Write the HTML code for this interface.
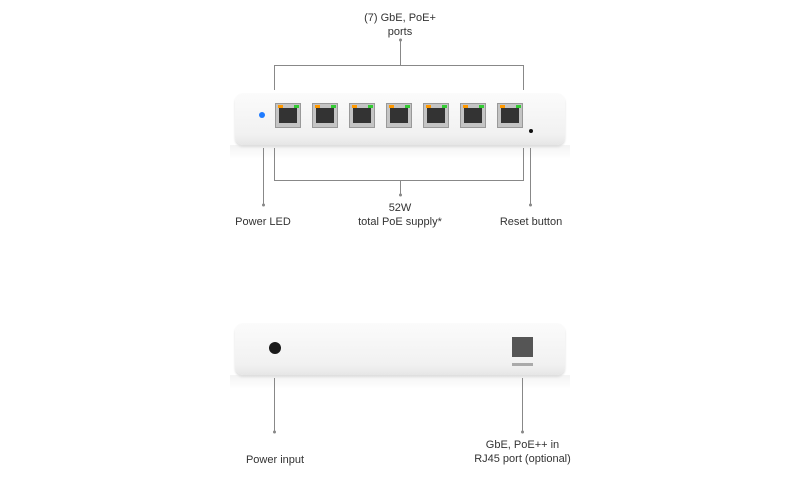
<!DOCTYPE html>
<html><head><style>
body{margin:0;width:800px;height:485px;background:#fff;font-family:"Liberation Sans",sans-serif;position:relative;overflow:hidden}
.t{position:absolute;font-size:11px;color:#333;text-align:center;line-height:14px;white-space:nowrap}
.dev{position:absolute;left:235px;width:330px;height:52px;background:linear-gradient(#fbfbfb,#f1f1f1 80%,#e6e6e6);border-radius:8px;box-shadow:0 2px 2px #ddd}
.refl{position:absolute;left:230px;width:340px;height:14px;background:linear-gradient(#f3f3f3,#fff)}
.port{position:absolute;top:10px;width:26px;height:25px;background:#c4c4c4;border:1px solid #999;box-sizing:border-box}
.port i{position:absolute;left:3px;top:4px;width:18px;height:15px;background:#333}
.port b{position:absolute;top:1px;width:5px;height:3px}
</style></head><body>
<div class="t" style="left:300px;top:11px;width:200px">(7) GbE, PoE+<br>ports</div>
<div class="refl" style="top:145px"></div>
<div class="dev" style="top:93px">
<div style="position:absolute;left:24px;top:19px;width:6px;height:6px;border-radius:50%;background:#1e7bff"></div>
<div class="port" style="left:40px"><i></i><b style="left:2px;background:#f90"></b><b style="left:18px;background:#3c3"></b></div>
<div class="port" style="left:77px"><i></i><b style="left:2px;background:#f90"></b><b style="left:18px;background:#3c3"></b></div>
<div class="port" style="left:114px"><i></i><b style="left:2px;background:#f90"></b><b style="left:18px;background:#3c3"></b></div>
<div class="port" style="left:151px"><i></i><b style="left:2px;background:#f90"></b><b style="left:18px;background:#3c3"></b></div>
<div class="port" style="left:188px"><i></i><b style="left:2px;background:#f90"></b><b style="left:18px;background:#3c3"></b></div>
<div class="port" style="left:225px"><i></i><b style="left:2px;background:#f90"></b><b style="left:18px;background:#3c3"></b></div>
<div class="port" style="left:262px"><i></i><b style="left:2px;background:#f90"></b><b style="left:18px;background:#3c3"></b></div>
<div style="position:absolute;left:294px;top:36px;width:4px;height:4px;border-radius:50%;background:#111"></div>
</div>
<div class="t" style="left:300px;top:201px;width:200px">52W<br>total PoE supply*</div>
<div class="t" style="left:213px;top:215px;width:100px">Power LED</div>
<div class="t" style="left:481px;top:215px;width:100px">Reset button</div>
<div class="refl" style="top:375px"></div>
<div class="dev" style="top:323px">
<div style="position:absolute;left:34px;top:19px;width:12px;height:12px;border-radius:50%;background:#1a1a1a"></div>
<div style="position:absolute;left:277px;top:14px;width:21px;height:20px;background:#555"></div>
<div style="position:absolute;left:277px;top:40px;width:21px;height:3px;background:#aaa"></div>
</div>
<svg width="800" height="485" style="position:absolute;left:0;top:0;z-index:5">
<g stroke="#888" stroke-width="1" fill="none">
<path d="M400.5 40V65.5M274.5 90V65.5H523.5V90"/>
<path d="M274.5 148V180.5H523.5V148M400.5 180.5V194"/>
<path d="M263.5 148V205M530.5 148V205"/>
<path d="M274.5 378V432M522.5 378V432"/>
</g>
<g fill="#888"><circle cx="400.5" cy="195" r="1.5"/><circle cx="263.5" cy="205" r="1.5"/><circle cx="530.5" cy="205" r="1.5"/><circle cx="274.5" cy="432" r="1.5"/><circle cx="522.5" cy="432" r="1.5"/><circle cx="400.5" cy="40" r="1.5"/></g>
</svg>
<div class="t" style="left:225px;top:453px;width:100px">Power input</div>
<div class="t" style="left:450px;top:438px;width:145px">GbE, PoE++ in<br>RJ45 port (optional)</div>
</body></html>
